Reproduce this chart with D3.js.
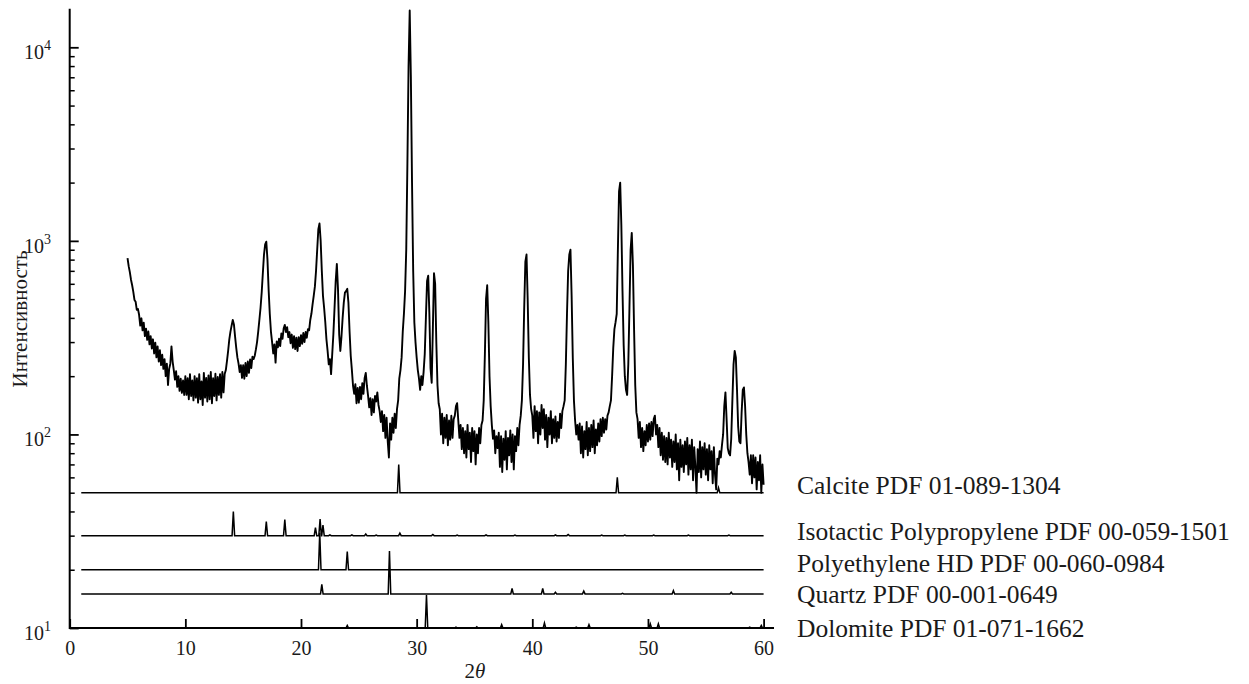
<!DOCTYPE html>
<html>
<head>
<meta charset="utf-8">
<script src="https://cdn.jsdelivr.net/npm/d3@7"></script>
<style>
  body { margin: 0; background: #fff; }
  svg { display: block; }
  text { font-family: "Liberation Serif", "Times New Roman", serif; fill: #1a1a1a; }
</style>
</head>
<body>
<svg id="chart" width="1249" height="684"></svg>
<script>
// measured pattern, 2theta from 5 to 60 in steps of 0.1
const thetaStart = 5, thetaStep = 0.1;
const intensity = [
  815,740,690,630,590,545,495,485,440,445,
  415,365,398,345,378,322,352,308,340,292,
  322,278,310,262,298,250,285,238,272,228,
  258,218,245,200,232,180,218,232,285,238,
  215,192,212,176,200,168,194,164,190,160,
  200,160,195,152,205,158,190,150,200,155,
  195,146,205,152,188,142,208,155,196,148,
  202,152,210,145,195,158,206,150,198,160,
  205,155,210,165,205,215,240,270,310,340,
  365,390,370,320,280,250,232,210,228,196,
  228,194,234,200,238,208,244,220,252,245,
  255,275,300,340,390,450,540,680,850,960,
  990,800,560,420,340,300,262,292,235,302,
  282,312,286,332,312,352,368,338,358,318,
  338,296,328,280,322,276,316,270,318,286,
  326,294,334,300,338,316,350,345,390,420,
  470,520,580,700,900,1150,1230,1000,700,520,
  450,380,310,270,230,245,205,260,330,450,
  620,760,560,330,270,320,400,480,540,550,
  565,480,340,255,215,178,162,182,145,174,
  146,176,152,184,162,195,208,178,158,138,
  154,126,152,130,158,148,165,142,132,116,
  132,104,126,96,122,92,76,114,94,122,
  102,128,108,135,150,195,215,250,340,420,
  550,900,2500,8000,15500,7000,2000,700,380,300,
  250,215,195,170,200,180,210,260,400,620,
  660,420,220,185,350,680,600,300,180,145,
  135,100,128,90,122,96,126,88,118,94,
  125,96,120,125,140,145,118,96,112,84,
  108,80,104,76,112,84,102,72,108,82,
  104,70,100,80,108,90,112,118,150,260,
  500,590,380,200,140,112,95,105,80,98,
  85,102,68,98,64,95,74,104,66,96,
  78,105,72,100,66,98,82,108,88,112,
  125,150,230,450,780,850,500,250,160,135,
  125,96,140,104,132,90,130,100,142,108,
  135,94,126,86,122,100,132,90,120,96,
  124,92,116,96,128,108,132,140,150,230,
  420,700,850,900,520,250,150,118,100,112,
  94,114,80,110,76,104,84,116,78,108,
  82,112,86,118,80,106,88,114,92,120,
  98,122,102,120,106,125,130,140,150,200,
  280,350,380,420,900,1800,2000,1200,550,290,
  200,170,160,230,450,900,1100,750,350,180,
  130,120,96,116,86,108,82,104,88,112,
  92,114,94,116,98,120,125,100,112,86,
  108,78,102,74,98,72,96,70,102,76,
  94,68,92,72,100,66,90,58,94,68,
  88,64,92,70,96,62,88,66,94,58,
  86,68,50,84,64,92,60,86,66,90,
  62,84,58,88,66,82,56,86,62,52,
  75,70,82,76,88,100,140,165,120,85,
  80,78,95,150,230,270,250,170,110,92,
  90,130,170,175,140,100,80,72,62,78,
  56,78,60,76,52,72,58,78,50,70,
  55
];

// reference cards: name, offset baseline, peaks [2theta, height]
const refNames = [
  "Calcite PDF 01-089-1304",
  "Isotactic Polypropylene PDF 00-059-1501",
  "Polyethylene HD PDF 00-060-0984",
  "Quartz PDF 00-001-0649",
  "Dolomite PDF 01-071-1662"
];
const refBase = [50, 30, 20, 15, 10];
const calcitePeaks = [[28.45, 70], [47.35, 60], [56.1, 53]];
const ppPeaks = [[14.15, 40], [17.0, 35.5], [18.6, 36.3], [21.25, 33], [21.65, 36.5], [21.9, 34],
  [22.5, 30.3], [24.4, 30.3], [25.6, 30.6], [26.5, 30.2], [28.55, 30.9], [31.4, 30.4], [33.5, 30.2],
  [36.0, 30.3], [38.5, 30.2], [42.0, 30.3], [43.1, 30.4], [46.0, 30.2], [48.0, 30.2], [50.5, 30.2],
  [53.5, 30.2], [57.0, 30.2]];
const pePeaks = [[21.62, 31], [24.0, 24.8]];
const quartzPeaks = [[21.8, 16.8], [27.65, 25], [38.25, 16.0], [40.9, 16.0], [42.0, 15.3],
  [44.45, 15.5], [47.8, 15.1], [52.2, 15.6], [57.2, 15.3]];
const dolomitePeaks = [[24.0, 10.3], [30.85, 14.8], [33.4, 10.1], [35.2, 10.15], [37.35, 10.4],
  [41.05, 10.6], [43.8, 10.1], [44.9, 10.4], [50.2, 10.5], [50.9, 10.5], [58.8, 10.1], [59.8, 10.3]];
const refPeaks = [calcitePeaks, ppPeaks, pePeaks, quartzPeaks, dolomitePeaks];
const refRange = [1, 60];

const xTicks = [0, 10, 20, 30, 40, 50, 60];
const yTicks = [10, 100, 1000, 10000];
const yExp = ["1", "2", "3", "4"];

const serif = '"Liberation Serif", "Times New Roman", serif';
const svg = d3.select("#chart");
const x = d3.scaleLinear().domain([0, 60]).range([69.7, 763.6]);
const y = d3.scaleLog().domain([10, 10000]).range([628, 47.3]);
const xEnd = 60.9, yTop = 15800;

// main pattern
const pts = intensity.map((v, i) => [thetaStart + i * thetaStep, v]);
const line = d3.line().x(d => x(d[0])).y(d => y(d[1]));
svg.append("path")
  .attr("d", line(pts))
  .attr("fill", "none")
  .attr("stroke", "#000")
  .attr("stroke-width", 1.9)
  .attr("stroke-linejoin", "round");

// reference stick patterns
const w = 0.11;
refPeaks.forEach((peaks, k) => {
  const base = refBase[k];
  const p = [[refRange[0], base]];
  peaks.slice().sort((a, b) => a[0] - b[0]).forEach(([t, h]) => {
    p.push([t - w, base], [t, h], [t + w, base]);
  });
  p.push([refRange[1], base]);
  svg.append("path")
    .attr("d", line(p))
    .attr("fill", "none")
    .attr("stroke", "#000")
    .attr("stroke-width", 1.5);
});

// axes
const gx = svg.append("g").attr("transform", `translate(0,${y(10)})`)
  .call(d3.axisBottom(x).tickValues(xTicks).tickSize(-9).tickSizeOuter(0).tickPadding(13))
  .attr("font-family", serif).attr("font-size", 20);
gx.select(".domain").remove();
gx.selectAll("line").attr("stroke", "#000").attr("stroke-width", 1.8);
gx.selectAll("text").attr("fill", "#1a1a1a");

const minors = [];
[10, 100, 1000].forEach(d => { for (let m = 2; m <= 9; m++) minors.push(d * m); });
const gy = svg.append("g").attr("transform", `translate(${x(0)},0)`)
  .call(d3.axisLeft(y).tickValues(yTicks).tickSize(-9).tickSizeOuter(0).tickFormat(""));
gy.select(".domain").remove();
gy.selectAll("line").attr("stroke", "#000").attr("stroke-width", 1.8);
const gym = svg.append("g").attr("transform", `translate(${x(0)},0)`)
  .call(d3.axisLeft(y).tickValues(minors).tickSize(-5).tickSizeOuter(0).tickFormat(""));
gym.select(".domain").remove();
gym.selectAll("line").attr("stroke", "#000").attr("stroke-width", 1.5);

svg.append("line")
  .attr("x1", x(0)).attr("x2", x(xEnd)).attr("y1", y(10)).attr("y2", y(10))
  .attr("stroke", "#000").attr("stroke-width", 2);
svg.append("line")
  .attr("x1", x(0)).attr("x2", x(0)).attr("y1", y(10) + 1).attr("y2", y(yTop))
  .attr("stroke", "#000").attr("stroke-width", 2);

// y tick labels 10^n
yTicks.forEach((v, i) => {
  const t = svg.append("text")
    .attr("x", 51).attr("y", y(v) + 12)
    .attr("text-anchor", "end")
    .attr("font-size", 20);
  t.append("tspan").text("10");
  t.append("tspan").attr("dy", -9).attr("font-size", 14).text(yExp[i]);
});

// axis titles
svg.append("text")
  .attr("transform", `translate(27,319) rotate(-90)`)
  .attr("text-anchor", "middle")
  .attr("font-size", 21)
  .text("Интенсивность");
const xt = svg.append("text")
  .attr("x", 475).attr("y", 678)
  .attr("text-anchor", "middle")
  .attr("font-size", 21);
xt.append("tspan").text("2");
xt.append("tspan").attr("font-style", "italic").text("θ");

// labels for reference cards
const labelDy = [1.5, 4, 2, 9, 9];
refNames.forEach((name, k) => {
  svg.append("text")
    .attr("x", 797)
    .attr("y", y(refBase[k]) + labelDy[k])
    .attr("font-size", 25.5)
    .text(name);
});
</script>
</body>
</html>
